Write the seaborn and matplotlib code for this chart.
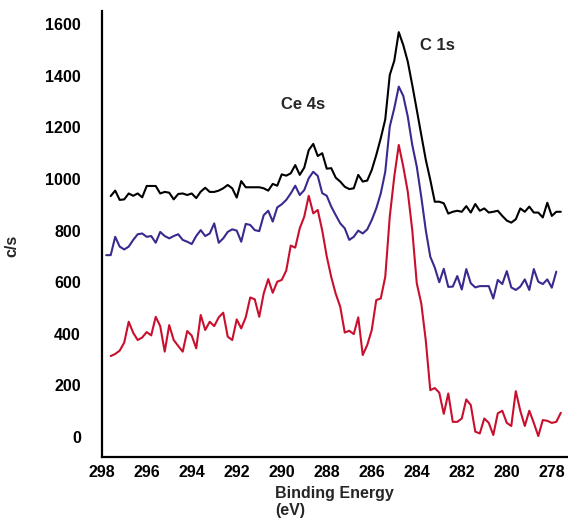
import numpy as np
import pandas as pd
import matplotlib
matplotlib.use("Agg")
import matplotlib.pyplot as plt
import seaborn as sns

# Binding energy grids (eV)
energy_black = np.round(np.arange(297.6, 277.5, -0.2), 1)
energy_blue = np.round(np.arange(297.8, 277.7, -0.2), 1)
energy_red = np.round(np.arange(297.6, 277.5, -0.2), 1)

counts_black = [
    934, 955, 919, 921, 944, 935, 944, 929, 973, 973, 973, 944, 950, 947, 921, 942,
    944, 938, 944, 926, 951, 966, 950, 950, 955, 964, 977, 964, 928, 992, 968, 968,
    968, 968, 964, 955, 981, 974, 1018, 1013, 1022, 1054, 1016, 1044, 1112, 1136,
    1089, 1100, 1040, 1042, 1005, 990, 970, 961, 964, 1016, 990, 994, 1035, 1093,
    1158, 1231, 1403, 1458, 1569, 1519, 1455, 1364, 1268, 1171, 1075, 997, 912, 912,
    906, 866, 873, 877, 873, 895, 870, 903, 877, 886, 870, 873, 877, 857, 839, 831,
    844, 886, 873, 893, 870, 870, 851, 908, 857, 873, 873,
]
counts_blue = [
    705, 705, 776, 738, 727, 738, 764, 786, 789, 776, 779, 753, 795, 779, 770, 779,
    786, 764, 757, 748, 779, 802, 779, 789, 828, 753, 770, 795, 805, 800, 757, 826,
    822, 802, 798, 860, 877, 835, 890, 902, 919, 944, 974, 938, 957, 1003, 1028,
    1012, 945, 935, 893, 860, 828, 809, 764, 776, 800, 789, 805, 841, 886, 944, 1028,
    1203, 1274, 1358, 1322, 1242, 1132, 1048, 931, 802, 699, 657, 600, 652, 582, 583,
    624, 572, 651, 596, 580, 585, 585, 585, 537, 609, 593, 643, 580, 570, 583, 611,
    570, 651, 602, 593, 611, 579, 641,
]
counts_red = [
    314, 322, 335, 366, 447, 404, 376, 386, 407, 394, 466, 430, 331, 434, 376, 353,
    331, 411, 393, 344, 473, 415, 447, 430, 464, 482, 389, 376, 456, 421, 464, 541,
    534, 466, 557, 612, 559, 602, 609, 645, 742, 734, 809, 854, 935, 867, 880, 800,
    700, 620, 555, 505, 405, 412, 399, 464, 318, 357, 415, 531, 537, 621, 854, 1009,
    1132, 1048, 951, 802, 596, 518, 375, 182, 190, 172, 90, 169, 59, 59, 72, 146, 124,
    21, 14, 72, 55, 8, 92, 102, 55, 43, 178, 102, 43, 102, 55, 4, 66, 63, 55, 59, 94,
]

series_names = ["black", "blue", "red"]
series_colors = {"black": "#000000", "blue": "#3a2a8e", "red": "#c8102e"}

x_ticks = [298, 296, 294, 292, 290, 288, 286, 284, 282, 280, 278]
y_ticks = [0, 200, 400, 600, 800, 1000, 1200, 1400, 1600]

peak_labels = ["Ce 4s", "C 1s"]
peak_label_x = [289.05, 283.1]
peak_label_y = [1287, 1519]

df = pd.concat([
    pd.DataFrame({"energy": energy_black, "counts": counts_black, "series": "black"}),
    pd.DataFrame({"energy": energy_blue, "counts": counts_blue, "series": "blue"}),
    pd.DataFrame({"energy": energy_red, "counts": counts_red, "series": "red"}),
], ignore_index=True)

sns.set_style("white")
plt.rcParams["font.family"] = ["Liberation Sans", "DejaVu Sans"]
plt.rcParams["font.weight"] = "bold"

fig = plt.figure(figsize=(5.68, 5.25), dpi=100)
ax = fig.add_axes([101.7 / 568, 1 - 456.7 / 525, 1 - 101.7 / 568, (456.7 - 11) / 525])

sns.lineplot(data=df, x="energy", y="counts", hue="series", hue_order=series_names,
             palette=series_colors, linewidth=1.5, legend=False, ax=ax, sort=False,
             estimator=None)

ax.set_xlim(298, 277.28)
ax.set_ylim(-76, 1651)
ax.set_xticks(x_ticks)
ax.set_xticklabels([str(t) for t in x_ticks])
ax.set_yticks(y_ticks)
ax.set_yticklabels([str(t) for t in y_ticks])

for s in ["top", "right"]:
    ax.spines[s].set_visible(False)
for s in ["left", "bottom"]:
    ax.spines[s].set_linewidth(1.6)
    ax.spines[s].set_color("black")

ax.tick_params(axis="both", direction="in", length=4.5, width=1.2, color="black",
               labelsize=11.5, labelcolor="black")
ax.tick_params(axis="y", pad=15)
ax.tick_params(axis="x", pad=6)
for lab in ax.get_xticklabels() + ax.get_yticklabels():
    lab.set_fontweight("bold")

ax.set_xlabel("Binding Energy\n(eV)", fontsize=11.5, fontweight="bold",
              multialignment="left", labelpad=4)
ax.set_ylabel("c/s", fontsize=11.5, fontweight="bold")
ax.yaxis.set_label_coords(-0.177, 0.473)

for txt, xx, yy in zip(peak_labels, peak_label_x, peak_label_y):
    ax.text(xx, yy, txt, fontsize=12, fontweight="bold", ha="center", va="center")

ax.grid(False)
fig.savefig("out.png", dpi=100)
